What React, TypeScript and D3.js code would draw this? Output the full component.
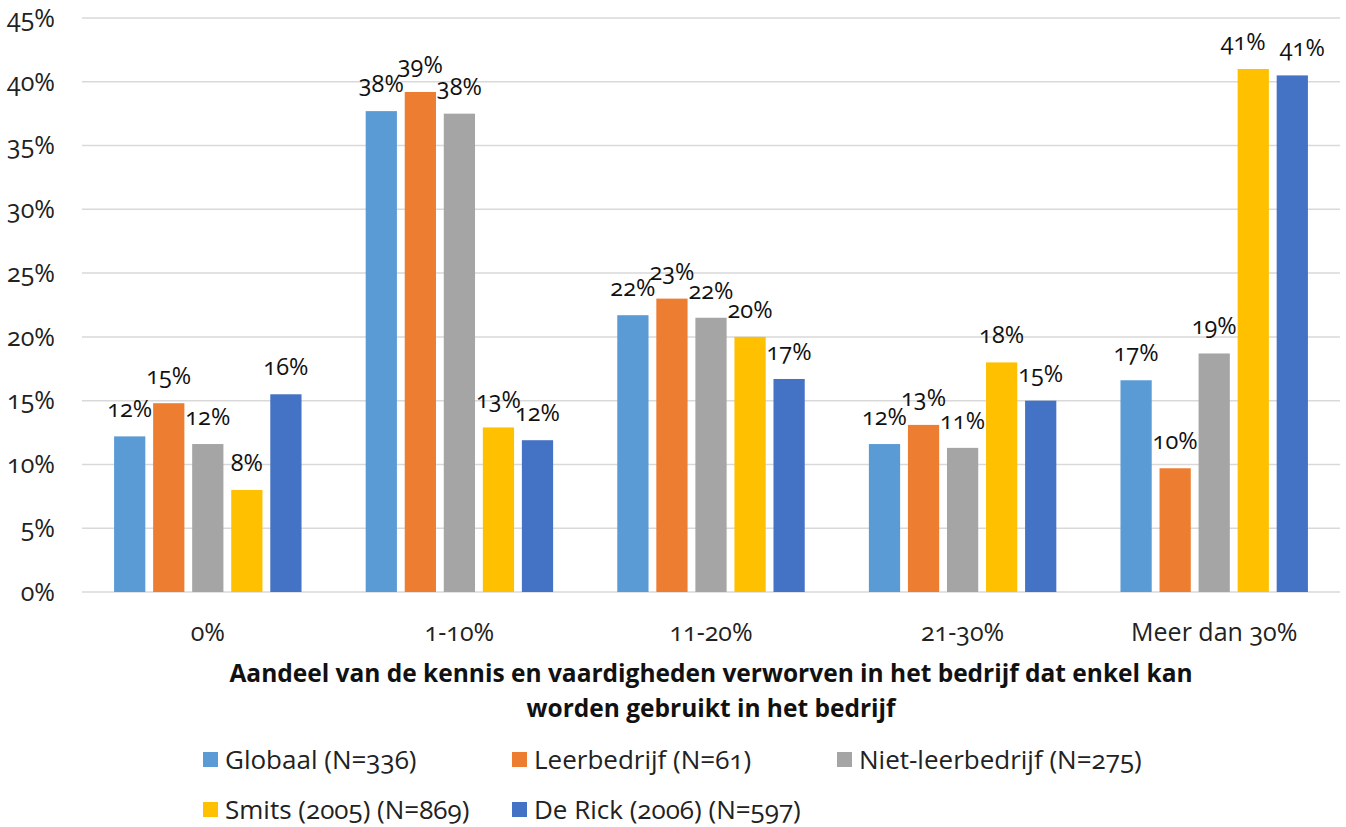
import * as d3 from 'd3';

const width = 1346;
const height = 827;
const margin = { top: 18, right: 6, bottom: 235, left: 82 };

// categories on the x axis
const categories = ['0%', '1-10%', '11-20%', '21-30%', 'Meer dan 30%'];

// series names and values (percent)
const seriesNames = [
  'Globaal (N=336)',
  'Leerbedrijf (N=61)',
  'Niet-leerbedrijf (N=275)',
  'Smits (2005) (N=869)',
  'De Rick (2006) (N=597)',
];
const globaal = [12.2, 37.7, 21.7, 11.6, 16.6];
const leerbedrijf = [14.8, 39.2, 23.0, 13.1, 9.7];
const nietLeerbedrijf = [11.6, 37.5, 21.5, 11.3, 18.7];
const smits = [8.0, 12.9, 20.0, 18.0, 41.0];
const deRick = [15.5, 11.9, 16.7, 15.0, 40.5];
const colors = ['#5B9BD5', '#ED7D31', '#A5A5A5', '#FFC000', '#4472C4'];
const yTicks = [0, 5, 10, 15, 20, 25, 30, 35, 40, 45];

const titleLines = [
  'Aandeel van de kennis en vaardigheden verworven in het bedrijf dat enkel kan',
  'worden gebruikt in het bedrijf',
];

const font = '"Open Sans", "DejaVu Sans", sans-serif';
const fs = 25;

export default function App() {
  const series = [globaal, leerbedrijf, nietLeerbedrijf, smits, deRick];
  const innerW = width - margin.left - margin.right;
  const plotBottom = height - margin.bottom;

  const x = d3.scaleBand().domain(categories).range([margin.left, margin.left + innerW]);
  const y = d3.scaleLinear().domain([0, 45]).range([plotBottom, margin.top]);
  const groupW = x.bandwidth() * 0.745;
  const xs = d3
    .scaleBand()
    .domain(seriesNames)
    .range([0, groupW])
    .paddingInner(0.2);

  // nudge apart neighbouring labels that sit at almost the same height
  const labelShift = (ci: number, si: number) => {
    const here = y(series[si][ci]);
    let dx = 0;
    if (si > 0 && Math.abs(y(series[si - 1][ci]) - here) < 8) dx += 10;
    if (si < series.length - 1 && Math.abs(y(series[si + 1][ci]) - here) < 8) dx -= 10;
    return dx;
  };

  const legendPos = [
    [203, 760],
    [512, 760],
    [837, 760],
    [203, 810],
    [512, 810],
  ];

  return (
    <svg
      width={width}
      height={height}
      style={{ position: 'absolute', left: 0, top: 0, background: '#fff' }}
      fontFamily={font}
    >
      {/* gridlines */}
      {yTicks.map((t) => (
        <line
          key={'g' + t}
          x1={margin.left}
          x2={margin.left + innerW}
          y1={y(t)}
          y2={y(t)}
          stroke="#D9D9D9"
          strokeWidth={1.5}
        />
      ))}
      {/* y tick labels */}
      {yTicks.map((t) => (
        <text
          key={'t' + t}
          x={55}
          y={y(t)}
          dy="0.35em"
          textAnchor="end"
          fontSize={fs}
          fill="#222"
          style={{ fontVariantNumeric: 'oldstyle-nums' }}
        >
          {t}%
        </text>
      ))}
      {/* bars + labels */}
      {categories.map((c, ci) => {
        const gx = x(c)! + (x.bandwidth() - groupW) / 2;
        return (
          <g key={c}>
            {series.map((vals, si) => {
              const bx = gx + xs(seriesNames[si])!;
              const v = vals[ci];
              return (
                <g key={si}>
                  <rect
                    x={bx}
                    y={y(v)}
                    width={xs.bandwidth()}
                    height={plotBottom - y(v)}
                    fill={colors[si]}
                  />
                  <text
                    x={bx + xs.bandwidth() / 2 + labelShift(ci, si)}
                    y={y(v) - 19}
                    textAnchor="middle"
                    fontSize={23.5}
                    fill="#111"
                    style={{ fontVariantNumeric: 'oldstyle-nums' }}
                  >
                    {Math.round(v)}%
                  </text>
                </g>
              );
            })}
            <text
              x={x(c)! + x.bandwidth() / 2}
              y={641}
              textAnchor="middle"
              fontSize={fs}
              fill="#222"
              style={{ fontVariantNumeric: 'oldstyle-nums' }}
            >
              {c}
            </text>
          </g>
        );
      })}
      {/* axis title */}
      {titleLines.map((l, i) => (
        <text
          key={l}
          x={margin.left + innerW / 2}
          y={682 + i * 35}
          textAnchor="middle"
          fontSize={24.5}
          fontWeight="bold"
          fill="#111"
        >
          {l}
        </text>
      ))}
      {/* legend */}
      {seriesNames.map((s, i) => (
        <g key={s} transform={`translate(${legendPos[i][0]},${legendPos[i][1]})`}>
          <rect x={0} y={-8} width={15} height={15} fill={colors[i]} />
          <text
            x={22}
            y={0}
            dy="0.35em"
            fontSize={fs + 1}
            fill="#222"
            style={{ fontVariantNumeric: 'oldstyle-nums' }}
          >
            {s}
          </text>
        </g>
      ))}
    </svg>
  );
}
